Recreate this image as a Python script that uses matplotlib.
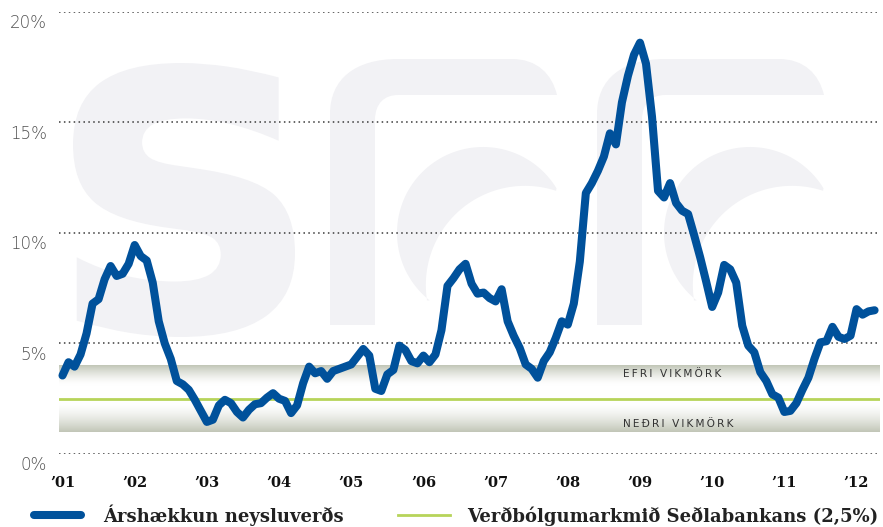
import numpy as np
import matplotlib
matplotlib.use("Agg")
import matplotlib.pyplot as plt
from matplotlib.path import Path
from matplotlib.patches import PathPatch
from matplotlib.textpath import TextPath
from matplotlib.font_manager import FontProperties
from matplotlib.transforms import Affine2D, ScaledTranslation
from matplotlib.lines import Line2D

# ---------------- data (12-month CPI change, %, monthly Jan 2001 - Apr 2012) -------------
infl_2001 = [3.55, 4.15, 3.95, 4.5, 5.45, 6.8, 7.0, 7.9, 8.5, 8.05, 8.15, 8.6]
infl_2002 = [9.45, 8.95, 8.75, 7.75, 6.0, 5.0, 4.3, 3.3, 3.15, 2.9, 2.45, 1.95]
infl_2003 = [1.45, 1.55, 2.2, 2.45, 2.3, 1.9, 1.65, 2.0, 2.25, 2.3, 2.55, 2.75]
infl_2004 = [2.5, 2.4, 1.85, 2.2, 3.2, 3.95, 3.65, 3.75, 3.4, 3.75, 3.85, 3.95]
infl_2005 = [4.05, 4.4, 4.75, 4.45, 2.95, 2.85, 3.6, 3.8, 4.9, 4.7, 4.2, 4.1]
infl_2006 = [4.45, 4.15, 4.5, 5.6, 7.6, 7.95, 8.35, 8.6, 7.7, 7.25, 7.3, 7.05]
infl_2007 = [6.9, 7.45, 6.0, 5.35, 4.8, 4.05, 3.85, 3.45, 4.2, 4.6, 5.25, 6.0]
infl_2008 = [5.85, 6.8, 8.7, 11.8, 12.25, 12.8, 13.45, 14.5, 14.0, 15.9, 17.1, 18.05]
infl_2009 = [18.6, 17.65, 15.25, 11.9, 11.6, 12.25, 11.35, 11.0, 10.85, 9.9, 8.9, 7.8]
infl_2010 = [6.65, 7.3, 8.55, 8.35, 7.75, 5.8, 4.9, 4.6, 3.7, 3.3, 2.7, 2.55]
infl_2011 = [1.9, 1.95, 2.3, 2.9, 3.45, 4.3, 5.05, 5.1, 5.75, 5.3, 5.2, 5.35]
infl_2012 = [6.55, 6.3, 6.45, 6.5]

target = 2.5          # inflation target
band_low, band_high = 1.0, 4.0   # tolerance band

year_labels = ["\u201901", "\u201902", "\u201903", "\u201904", "\u201905", "\u201906",
               "\u201907", "\u201908", "\u201909", "\u201910", "\u201911", "\u201912"]
y_ticks = [0, 5, 10, 15, 20]
y_tick_labels = ["0%", "5%", "10%", "15%", "20%"]
series_label = "Árshækkun neysluverðs"
target_label = "Verðbólgumarkmið Seðlabankans (2,5%)"
upper_label = "EFRI VIKMÖRK"
lower_label = "NEÐRI VIKMÖRK"

values = np.array(infl_2001 + infl_2002 + infl_2003 + infl_2004 + infl_2005 + infl_2006 +
                  infl_2007 + infl_2008 + infl_2009 + infl_2010 + infl_2011 + infl_2012)
months = np.arange(len(values))

# ---------------- styling -------------
BLUE = "#00519b"
GREEN = "#b7d45a"
WM = "#f2f2f5"
W, H = 883, 527

fig = plt.figure(figsize=(W / 100, H / 100), dpi=100)
fig.patch.set_facecolor("white")
px = Affine2D().scale(0.01, -0.01).translate(0, H / 100) + fig.dpi_scale_trans

# ---------------- watermark "sff" -------------
tp = TextPath((0, 0), "s", size=100, prop=FontProperties(family="DejaVu Sans", weight="bold"))
ext = tp.get_extents()
tr = (Affine2D().translate(-ext.x0, -ext.y0)
      .scale((295 - 73) / ext.width, -(337 - 63) / ext.height).translate(73, 337))
fig.add_artist(PathPatch(tr.transform_path(tp), transform=px, fc=WM, ec="none", zorder=-5))


def f_shape(L):
    T, Tb, B, R = 59, 95, 325, L + 227
    verts = [(L, B), (L, T + 55),
             (L, T + 20), (L + 25, T), (L + 68, T),
             (R - 45, T),
             (R - 20, T), (R - 5, T + 15), (R, Tb),
             (L + 68, Tb),
             (L + 55, Tb), (L + 45, Tb + 8), (L + 45, Tb + 25),
             (L + 45, B), (L, B)]
    codes = [Path.MOVETO, Path.LINETO,
             Path.CURVE4, Path.CURVE4, Path.CURVE4,
             Path.LINETO,
             Path.CURVE4, Path.CURVE4, Path.CURVE4,
             Path.LINETO,
             Path.CURVE4, Path.CURVE4, Path.CURVE4,
             Path.LINETO, Path.CLOSEPOLY]
    fig.add_artist(PathPatch(Path(verts, codes), transform=px, fc=WM, ec="none", zorder=-5))
    # crescent
    p1 = np.array([L + 227, 188.0])
    p2 = np.array([L + 100, 300.0])
    co = np.array([L + 153, 233.0])
    ci = np.array([L + 195, 285.0])
    ro = (np.linalg.norm(p1 - co) + np.linalg.norm(p2 - co)) / 2
    ri = (np.linalg.norm(p1 - ci) + np.linalg.norm(p2 - ci)) / 2
    a1 = np.degrees(np.arctan2(*(p1 - co)[::-1]))
    a2 = np.degrees(np.arctan2(*(p2 - co)[::-1]))
    ang_o = np.radians(np.linspace(a1, a2 - 360, 80))
    b2 = np.degrees(np.arctan2(*(p2 - ci)[::-1]))
    b1 = np.degrees(np.arctan2(*(p1 - ci)[::-1])) + 360
    ang_i = np.radians(np.linspace(b2, b1, 80))
    outer = np.column_stack([co[0] + ro * np.cos(ang_o), co[1] + ro * np.sin(ang_o)])
    inner = np.column_stack([ci[0] + ri * np.cos(ang_i), ci[1] + ri * np.sin(ang_i)])
    poly = np.vstack([outer, inner])
    fig.add_artist(plt.Polygon(poly, closed=True, transform=px, fc=WM, ec="none", zorder=-5))


f_shape(330)
f_shape(597)

# ---------------- axes -------------
ax = fig.add_axes([59 / W, (H - 454) / H, (880 - 59) / W, (454 - 11.7) / H])
ax.patch.set_alpha(0)
xmin, xmax = -0.58, 135.9
ax.set_xlim(xmin, xmax)
ax.set_ylim(0, 20)
for s in ax.spines.values():
    s.set_visible(False)

# tolerance band gradient
yy = np.linspace(band_low, band_high, 400)
d_top = np.clip((yy - 3.1) / (band_high - 3.1), 0, 1) ** 1.5
d_bot = np.clip((2.3 - yy) / (2.3 - band_low), 0, 1) ** 1.5
d = np.maximum(d_top, d_bot)
dark = np.array([0.755, 0.775, 0.715])
img = 1 - d[:, None] * (1 - dark)
ax.imshow(img.reshape(-1, 1, 3), extent=[xmin, xmax, band_low, band_high], origin="lower",
          aspect="auto", zorder=1, interpolation="bilinear")

ax.axhline(target, color=GREEN, lw=2.0, zorder=2)

for yv in y_ticks:
    ax.axhline(yv, color="#3a3a3a", lw=1.1, linestyle=(0, (1, 2.2)), zorder=1.5)

ax.plot(months, values, color=BLUE, lw=5.8, solid_capstyle="round",
        solid_joinstyle="round", zorder=3, clip_on=False)

lab_font = dict(family="DejaVu Sans", size=7.6, color="#333333")
ax.text(93.2, 3.62, "\u2009".join(upper_label), va="center", ha="left", zorder=4, **lab_font)
ax.text(93.2, 1.36, "\u2009".join(lower_label), va="center", ha="left", zorder=4, **lab_font)

# ticks
ax.set_xticks(np.arange(0, len(values), 12))
ax.set_xticklabels(year_labels, fontfamily="DejaVu Serif", fontweight="bold",
                   fontsize=10.5, color="#111111")
ax.set_yticks(y_ticks)
ax.set_yticklabels(y_tick_labels, fontfamily="DejaVu Sans", fontweight=200,
                   fontsize=12, color="#505050")
ax.tick_params(axis="both", length=0)
ax.tick_params(axis="x", pad=16)
ax.tick_params(axis="y", pad=8.6)
off = ScaledTranslation(0, -2.5 / 100, fig.dpi_scale_trans)
for t in ax.yaxis.get_major_ticks():
    t.label1.set_va("top")
    t.label1.set_transform(t.label1.get_transform() + off)

# ---------------- legend -------------
fig.add_artist(Line2D([34, 81], [515, 515], transform=px, color=BLUE, lw=5.8,
                      solid_capstyle="round"))
fig.add_artist(Line2D([398, 450], [515, 515], transform=px, color=GREEN, lw=2.0))
leg_font = dict(family="DejaVu Serif", weight="bold", size=13.0, color="#222222")
fig.text(103 / W, (H - 521.5) / H, series_label, va="baseline", ha="left", **leg_font)
fig.text(467 / W, (H - 521.5) / H, target_label, va="baseline", ha="left", **leg_font)

fig.savefig("out.png", dpi=100, facecolor="white")
